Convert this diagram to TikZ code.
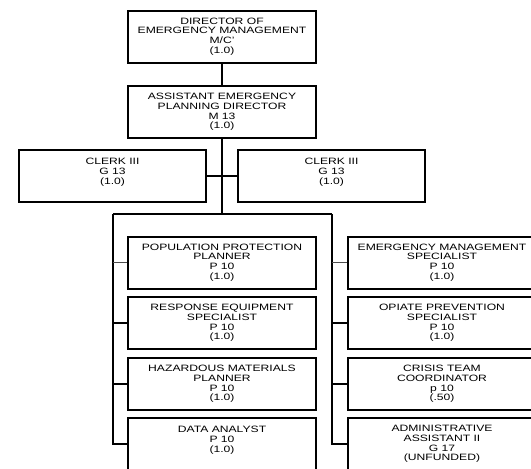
\documentclass[tikz,border=0pt]{standalone}
\usepackage{fontspec}
\setmainfont[FakeStretch=1.32]{Liberation Sans}
\usepackage{tikz}
\usetikzlibrary{positioning}

\tikzset{
	post/.style={draw, line width=2pt, minimum width=188pt, minimum height=52pt,
		inner sep=0pt, align=center, font=\fontsize{9.2}{9.8}\selectfont},
	trunk/.style={line width=2.6pt},
	twig/.style={line width=0.9pt, black!70},
}

\begin{document}
\begin{tikzpicture}[x=1pt,y=-1pt]
	\useasboundingbox (0,0) rectangle (531,469);
	\clip (0,0) rectangle (531,469);
	\node[post] (dir) at (222,36.5){DIRECTOR OF\\EMERGENCY MANAGEMENT\\M/C'\\(1.0)};%director
	\node[post] (asst) at (222,112){ASSISTANT EMERGENCY\\PLANNING DIRECTOR\\M 13\\(1.0)};%assistant
	\node[post, minimum width=187pt] (clerkA) at (112.5,176){CLERK III\\G 13\\(1.0)\\~};%clerk
	\node[post, minimum width=187pt] (clerkB) at (331.5,176){CLERK III\\G 13\\(1.0)\\~};%clerk
	\node[post] (popplan) at (222,262.5){POPULATION PROTECTION\\PLANNER\\P 10\\(1.0)};%left 1
	\node[post] (respeq) at (222,323){RESPONSE EQUIPMENT\\SPECIALIST\\P 10\\(1.0)};%left 2
	\node[post] (hazmat) at (222,384){HAZARDOUS MATERIALS\\PLANNER\\P 10\\(1.0)};%left 3
	\node[post] (dataan) at (222,444){DATA ANALYST\\P 10\\(1.0)\\~};%left 4
	\node[post] (emspec) at (442,262.5){EMERGENCY MANAGEMENT\\SPECIALIST\\P 10\\(1.0)};%right 1
	\node[post] (opiate) at (442,323){OPIATE PREVENTION\\SPECIALIST\\P 10\\(1.0)};%right 2
	\node[post] (crisis) at (442,384){CRISIS TEAM\\COORDINATOR\\p 10\\(.50)};%right 3
	\node[post] (admin) at (442,444){ADMINISTRATIVE\\ASSISTANT II\\G 17\\(UNFUNDED)};%right 4
	\coordinate (bar) at (222,214);
	\coordinate (barL) at (113,214);
	\coordinate (barR) at (332,214);
	\draw[trunk] (dir) -- (asst);
	\draw[trunk] (asst) -- (bar);
	\draw[line width=2pt] (clerkA) -- (clerkB);
	\draw[trunk] (barL) -- (barR);
	\draw[trunk] (barL) |- (dataan.west);
	\draw[line width=1.6pt] (barR) |- (admin.west);
	\draw[twig] (popplan.west) -- (popplan.west -| barL);
	\draw[trunk] (respeq.west) -- (respeq.west -| barL);
	\draw[trunk] (hazmat.west) -- (hazmat.west -| barL);
	\draw[twig] (emspec.west) -- (emspec.west -| barR);
	\draw[trunk] (opiate.west) -- (opiate.west -| barR);
	\draw[trunk] (crisis.west) -- (crisis.west -| barR);
\end{tikzpicture}
\end{document}
